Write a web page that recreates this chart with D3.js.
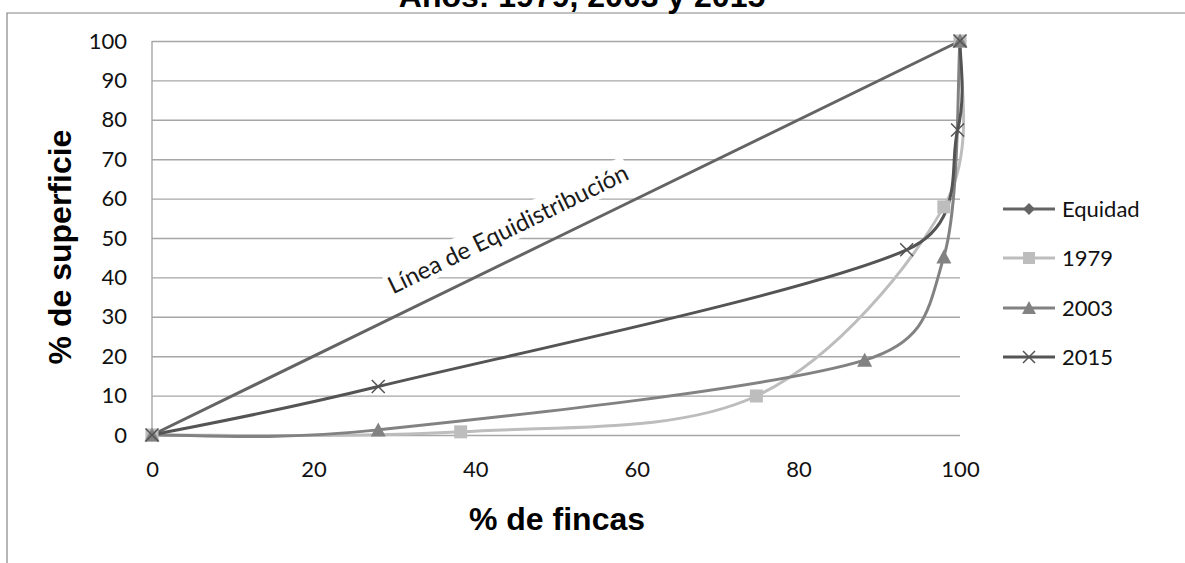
<!DOCTYPE html>
<html>
<head>
<meta charset="utf-8">
<script src="https://cdn.jsdelivr.net/npm/d3@7"></script>
<style>
  body { margin: 0; background: #fff; }
  svg { display: block; }
</style>
</head>
<body>
<script>
// DATA
var titleText = 'Años: 1979, 2003 y 2015';
var xTitle = '% de fincas';
var yTitle = '% de superficie';
var noteText = 'Línea de Equidistribución';
var seriesNames = ['Equidad', '1979', '2003', '2015'];
var xTicks = [0, 20, 40, 60, 80, 100];
var yTicks = [0, 10, 20, 30, 40, 50, 60, 70, 80, 90, 100];

var equidadX = [0, 100];
var equidadY = [0, 100];
var s1979X = [0, 38.2, 74.8, 98, 100];
var s1979Y = [0, 0.8, 9.9, 57.9, 100];
var s2003X = [0, 28, 88.2, 98, 100];
var s2003Y = [0, 1.3, 19, 45.2, 100];
var s2015X = [0, 28, 93.4, 99.7, 100];
var s2015Y = [0, 12.3, 47, 77.4, 100];

// SETTINGS
var W = 1185, H = 563;
var plot = { left: 152, right: 960, top: 41, bottom: 435 };
var tickFont = 'Lato, "Open Sans", sans-serif';
var boldFont = '"Liberation Sans", Arial, sans-serif';
var styles = [
  { color: '#646464', marker: 'diamond', xs: equidadX, ys: equidadY },
  { color: '#bdbdbd', marker: 'square', xs: s1979X, ys: s1979Y },
  { color: '#828282', marker: 'triangle', xs: s2003X, ys: s2003Y },
  { color: '#545454', marker: 'cross', xs: s2015X, ys: s2015Y }
];

var svg = d3.select('body').append('svg')
  .attr('width', W)
  .attr('height', H);

// CHART BORDER (runs off the picture)
svg.append('path')
  .attr('d', 'M7,' + (H + 5) + 'V13H' + (W + 5))
  .attr('fill', 'none')
  .attr('stroke', '#868686')
  .attr('stroke-width', 1.2);

// TITLE (cut off at the top, as in the source)
svg.append('text')
  .attr('x', 582).attr('y', 7)
  .attr('text-anchor', 'middle')
  .style('font-family', boldFont)
  .style('font-weight', 'bold')
  .style('font-size', '32px')
  .text(titleText);

var x = d3.scaleLinear().domain([0, 100]).range([plot.left, plot.right]);
var y = d3.scaleLinear().domain([0, 100]).range([plot.bottom, plot.top]);

// GRIDLINES
var grid = svg.append('g')
  .attr('transform', 'translate(' + plot.left + ',0)')
  .call(d3.axisLeft(y).tickValues(yTicks).tickSize(-(plot.right - plot.left)).tickFormat(''));
grid.select('.domain').remove();
grid.selectAll('line').attr('stroke', '#a6a6a6').attr('stroke-width', 1.4);

// Y AXIS LINE
svg.append('line')
  .attr('x1', plot.left).attr('x2', plot.left)
  .attr('y1', plot.top).attr('y2', plot.bottom)
  .attr('stroke', '#a6a6a6').attr('stroke-width', 1.4);

// Y TICK LABELS
var yAxis = svg.append('g')
  .attr('transform', 'translate(' + (plot.left - 25) + ',0)')
  .call(d3.axisLeft(y).tickValues(yTicks).tickSize(0).tickPadding(0));
yAxis.select('.domain').remove();
yAxis.selectAll('text')
  .style('font-family', tickFont)
  .style('font-size', '22px')
  .attr('fill', '#111');

// X TICK LABELS
var xAxis = svg.append('g')
  .attr('transform', 'translate(0,' + (plot.bottom + 26) + ')')
  .call(d3.axisBottom(x).tickValues(xTicks).tickSize(0).tickPadding(0));
xAxis.select('.domain').remove();
xAxis.selectAll('text')
  .style('font-family', tickFont)
  .style('font-size', '22px')
  .attr('fill', '#111');

// AXIS TITLES
svg.append('text')
  .attr('x', 557).attr('y', 530)
  .attr('text-anchor', 'middle')
  .style('font-family', boldFont)
  .style('font-weight', 'bold')
  .style('font-size', '32px')
  .text(xTitle);

svg.append('text')
  .attr('transform', 'translate(71,247) rotate(-90)')
  .attr('text-anchor', 'middle')
  .style('font-family', boldFont)
  .style('font-weight', 'bold')
  .style('font-size', '32px')
  .text(yTitle);

// ANNOTATION ON EQUIDAD LINE (white box hides the gridlines under it)
var angle = Math.atan2(y(0) - y(100), x(100) - x(0)) * 180 / Math.PI;
var note = svg.append('g')
  .attr('transform', 'translate(508,229) rotate(' + (-angle) + ')');
var noteLabel = note.append('text')
  .attr('text-anchor', 'middle')
  .attr('dy', '0.35em')
  .style('font-family', tickFont)
  .style('font-size', '24px')
  .attr('fill', '#1a1a1a')
  .text(noteText);
var bb = noteLabel.node().getBBox();
note.insert('rect', 'text')
  .attr('x', bb.x - 2).attr('y', bb.y)
  .attr('width', bb.width + 4).attr('height', bb.height)
  .attr('fill', '#fff');

// MARKER SHAPES
function drawMarker(g, type, cx, cy, color, size) {
  var s = size / 2;
  if (type === 'square') {
    g.append('rect').attr('x', cx - s).attr('y', cy - s)
      .attr('width', size).attr('height', size).attr('fill', color);
  } else if (type === 'triangle') {
    g.append('path')
      .attr('d', 'M' + cx + ',' + (cy - s - 1) + 'L' + (cx + s + 1) + ',' + (cy + s) + 'L' + (cx - s - 1) + ',' + (cy + s) + 'Z')
      .attr('fill', color);
  } else if (type === 'diamond') {
    g.append('path')
      .attr('d', 'M' + cx + ',' + (cy - s) + 'L' + (cx + s) + ',' + cy + 'L' + cx + ',' + (cy + s) + 'L' + (cx - s) + ',' + cy + 'Z')
      .attr('fill', color);
  } else {
    g.append('path')
      .attr('d', 'M' + (cx - s) + ',' + (cy - s) + 'L' + (cx + s) + ',' + (cy + s) + 'M' + (cx + s) + ',' + (cy - s) + 'L' + (cx - s) + ',' + (cy + s))
      .attr('stroke', color).attr('stroke-width', 1.5).attr('fill', 'none');
  }
}

// SPREADSHEET-STYLE SMOOTHING: tangent (P2-P0)/6, arm capped at half the segment
function smoothPath(pts) {
  var p = d3.path();
  p.moveTo(pts[0][0], pts[0][1]);
  function arm(a, b, seg) {
    var dx = (b[0] - a[0]) / 6, dy = (b[1] - a[1]) / 6;
    var len = Math.hypot(dx, dy), cap = seg / 2;
    if (len > cap && len > 0) { dx *= cap / len; dy *= cap / len; }
    return [dx, dy];
  }
  for (var i = 0; i < pts.length - 1; i++) {
    var p0 = pts[Math.max(i - 1, 0)], p1 = pts[i], p2 = pts[i + 1], p3 = pts[Math.min(i + 2, pts.length - 1)];
    var seg = Math.hypot(p2[0] - p1[0], p2[1] - p1[1]);
    var a1 = arm(p0, p2, seg), a2 = arm(p1, p3, seg);
    p.bezierCurveTo(p1[0] + a1[0], p1[1] + a1[1], p2[0] - a2[0], p2[1] - a2[1], p2[0], p2[1]);
  }
  return p.toString();
}

// LINES
var lines = svg.append('g');
var markers = svg.append('g');
styles.forEach(function (st) {
  var pts = st.xs.map(function (v, i) { return [x(v), y(st.ys[i])]; });
  lines.append('path')
    .attr('d', smoothPath(pts))
    .attr('fill', 'none')
    .attr('stroke', st.color)
    .attr('stroke-width', 3);
  pts.forEach(function (p) {
    drawMarker(markers, st.marker, p[0], p[1], st.color, 13);
  });
});

// LEGEND
var legendRows = [209, 258, 308, 357];
var legend = svg.append('g');
seriesNames.forEach(function (name, i) {
  var st = styles[i];
  var ly = legendRows[i];
  legend.append('line')
    .attr('x1', 1003).attr('x2', 1055)
    .attr('y1', ly).attr('y2', ly)
    .attr('stroke', st.color).attr('stroke-width', 3);
  drawMarker(legend, st.marker, 1029, ly, st.color, 12);
  legend.append('text')
    .attr('x', 1062).attr('y', ly)
    .attr('dy', '0.35em')
    .style('font-family', tickFont)
    .style('font-size', '22px')
    .attr('fill', '#111')
    .text(name);
});
</script>
</body>
</html>
